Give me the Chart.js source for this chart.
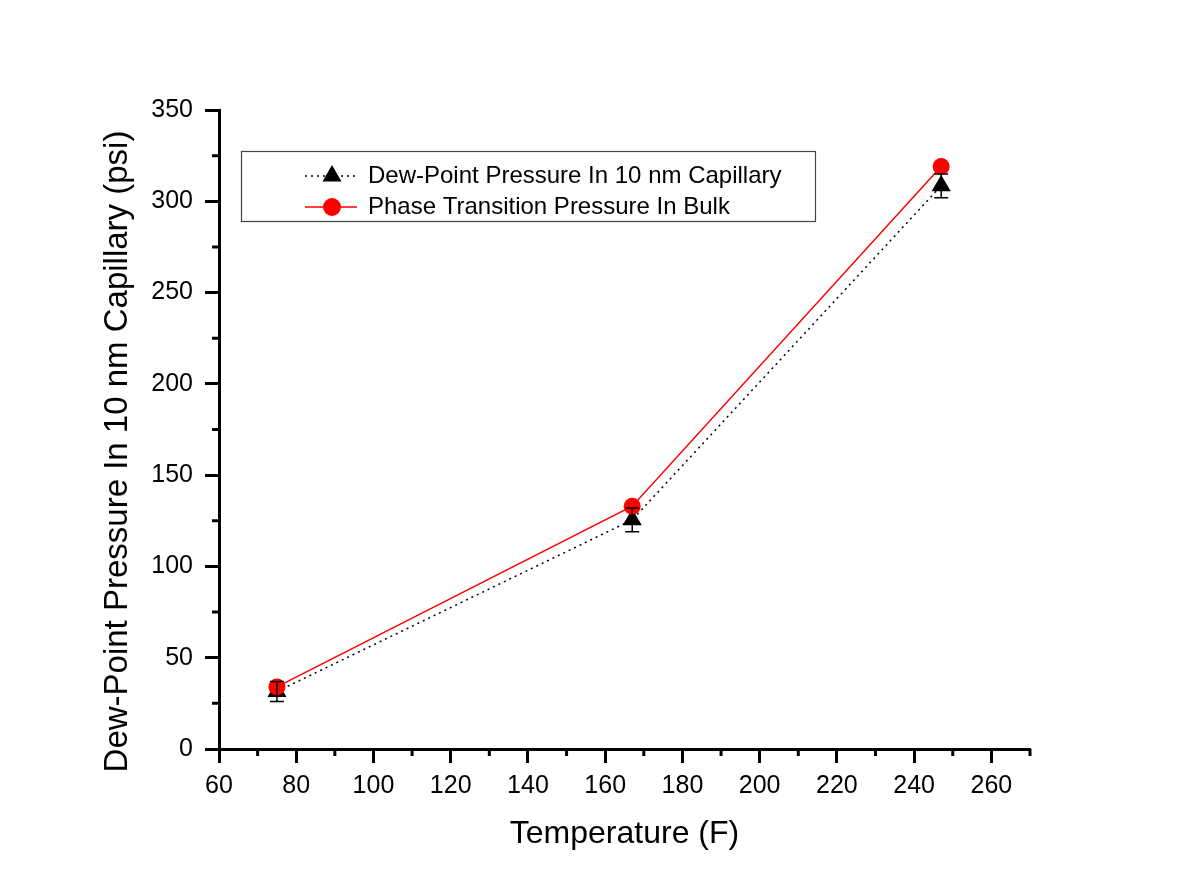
<!DOCTYPE html>
<html>
<head>
<meta charset="utf-8">
<title>Dew-Point Pressure</title>
<script src="https://cdn.jsdelivr.net/npm/chart.js@4/dist/chart.umd.min.js"></script>
<style>
  html, body { margin: 0; padding: 0; background: #fff; }
  #wrap { width: 1178px; height: 888px; }
</style>
</head>
<body>
<div id="wrap"><canvas id="dewChart"></canvas></div>
<script>
// temperatures (F)
const temps = [75, 167, 247];
// dew-point pressure in 10 nm capillary (psi) and its error
const dewPoint = [31.5, 125.5, 308.5];
const dewErr = [5.5, 6.5, 6.5];
// bulk phase transition pressure (psi)
const bulk = [34, 133, 319];

const xTicks = [60, 80, 100, 120, 140, 160, 180, 200, 220, 240, 260];
const xMinor = [70, 90, 110, 130, 150, 170, 190, 210, 230, 250, 270];
const yTicks = [0, 50, 100, 150, 200, 250, 300, 350];
const yMinor = [25, 75, 125, 175, 225, 275, 325];

const legendLabels = ["Dew-Point Pressure In 10 nm Capillary", "Phase Transition Pressure In Bulk"];
const yTitle = "Dew-Point Pressure In 10 nm Capillary (psi)";

const FONT = "'Liberation Sans', Arial, sans-serif";

function triangle(ctx, cx, cy, r) {
  const h = r * Math.sqrt(3) / 2;
  ctx.beginPath();
  ctx.moveTo(cx, cy - r);
  ctx.lineTo(cx + h, cy + r / 2);
  ctx.lineTo(cx - h, cy + r / 2);
  ctx.closePath();
  ctx.fill();
}

// error bars, short ticks, y title and the boxed legend
const extras = {
  id: "extras",
  afterDatasetsDraw(chart) {
    const { ctx, scales: { x, y } } = chart;
    ctx.save();
    ctx.strokeStyle = "#000";
    ctx.lineWidth = 1.5;
    temps.forEach((t, i) => {
      const px = x.getPixelForValue(t);
      const top = y.getPixelForValue(dewPoint[i] + dewErr[i]);
      const bot = y.getPixelForValue(dewPoint[i] - dewErr[i]);
      ctx.beginPath();
      ctx.moveTo(px, top); ctx.lineTo(px, bot);
      ctx.moveTo(px - 7, top); ctx.lineTo(px + 7, top);
      ctx.moveTo(px - 7, bot); ctx.lineTo(px + 7, bot);
      ctx.stroke();
    });
    ctx.restore();
  },
  afterDraw(chart) {
    const { ctx, chartArea: a, scales: { x, y } } = chart;
    ctx.save();
    // minor ticks
    ctx.strokeStyle = "#000";
    ctx.lineWidth = 3;
    ctx.beginPath();
    xMinor.forEach(v => {
      const px = x.getPixelForValue(v);
      ctx.moveTo(px, a.bottom); ctx.lineTo(px, a.bottom + 7);
    });
    yMinor.forEach(v => {
      const py = y.getPixelForValue(v);
      ctx.moveTo(a.left, py); ctx.lineTo(a.left - 7, py);
    });
    ctx.stroke();

    // y axis title, a little below the axis middle
    ctx.save();
    ctx.translate(118, (a.top + a.bottom) / 2 + 22);
    ctx.rotate(-Math.PI / 2);
    ctx.fillStyle = "#000";
    ctx.font = "33px " + FONT;
    ctx.textAlign = "center";
    ctx.textBaseline = "middle";
    ctx.fillText(yTitle, 0, 0);
    ctx.restore();

    // legend box
    const bx = a.left + 22, by = a.top + 41, bw = 574, bh = 70;
    ctx.fillStyle = "#fff";
    ctx.fillRect(bx, by, bw, bh);
    ctx.strokeStyle = "#444";
    ctx.lineWidth = 1.2;
    ctx.strokeRect(bx + 0.5, by + 0.5, bw, bh);

    const lx0 = bx + 64, lx1 = bx + 116, mx = bx + 91;
    const row1 = by + 25, row2 = by + 56;

    // row 1: dotted black with triangle
    ctx.strokeStyle = "#000";
    ctx.lineWidth = 1.5;
    ctx.setLineDash([2, 4]);
    ctx.beginPath();
    ctx.moveTo(lx0, row1); ctx.lineTo(lx1, row1);
    ctx.stroke();
    ctx.setLineDash([]);
    ctx.fillStyle = "#000";
    triangle(ctx, mx, row1, 11);

    // row 2: solid red with circle
    ctx.strokeStyle = "#ff0000";
    ctx.lineWidth = 1.5;
    ctx.beginPath();
    ctx.moveTo(lx0, row2); ctx.lineTo(lx1, row2);
    ctx.stroke();
    ctx.fillStyle = "#ff0000";
    ctx.beginPath();
    ctx.arc(mx, row2, 9, 0, Math.PI * 2);
    ctx.fill();

    ctx.fillStyle = "#000";
    ctx.font = "24px " + FONT;
    ctx.textBaseline = "middle";
    ctx.textAlign = "left";
    ctx.fillText(legendLabels[0], bx + 127, row1);
    ctx.fillText(legendLabels[1], bx + 127, row2);
    ctx.restore();
  }
};

const ctxDew = document.getElementById("dewChart").getContext("2d");

const dewChart = new Chart(ctxDew, {
  type: "line",
  data: {
    datasets: [
      {
        label: legendLabels[0],
        data: temps.map((t, i) => ({ x: t, y: dewPoint[i] })),
        borderColor: "#000",
        backgroundColor: "#000",
        borderWidth: 1.5,
        borderDash: [2, 4],
        pointStyle: "triangle",
        pointRadius: 11,
        pointBorderWidth: 0,
        tension: 0,
        order: 1,
      },
      {
        label: legendLabels[1],
        data: temps.map((t, i) => ({ x: t, y: bulk[i] })),
        borderColor: "#ff0000",
        backgroundColor: "#ff0000",
        borderWidth: 1.5,
        pointStyle: "circle",
        pointRadius: 8.5,
        pointBorderWidth: 0,
        tension: 0,
        order: 0,
      },
    ],
  },
  options: {
    responsive: true,
    maintainAspectRatio: false,
    animation: false,
    layout: {
      padding: { left: 0, top: 110, right: 148, bottom: 0 },
    },
    plugins: {
      legend: { display: false },
      tooltip: { enabled: false },
    },
    scales: {
      x: {
        type: "linear",
        min: 60,
        max: 270,
        afterBuildTicks: (scale) => { scale.ticks = xTicks.map(v => ({ value: v })); },
        afterFit: (scale) => { scale.height = 139; },
        grid: {
          drawOnChartArea: false,
          color: "#000",
          tickLength: 14,
          tickWidth: 3,
        },
        border: { display: true, color: "#000", width: 3 },
        ticks: {
          color: "#000",
          padding: 8,
          maxRotation: 0,
          font: { family: FONT, size: 25 },
        },
        title: {
          display: true,
          text: "Temperature (F)",
          color: "#000",
          font: { family: FONT, size: 32 },
          padding: { top: 0, bottom: 35 },
        },
      },
      y: {
        type: "linear",
        min: 0,
        max: 350,
        afterBuildTicks: (scale) => { scale.ticks = yTicks.map(v => ({ value: v })); },
        afterFit: (scale) => { scale.width = 219; },
        grid: {
          drawOnChartArea: false,
          color: "#000",
          tickLength: 14,
          tickWidth: 3,
        },
        border: { display: true, color: "#000", width: 3 },
        ticks: {
          color: "#000",
          padding: 12,
          font: { family: FONT, size: 25 },
        },
        title: { display: false },
      },
    },
  },
  plugins: [extras],
});
</script>
</body>
</html>
